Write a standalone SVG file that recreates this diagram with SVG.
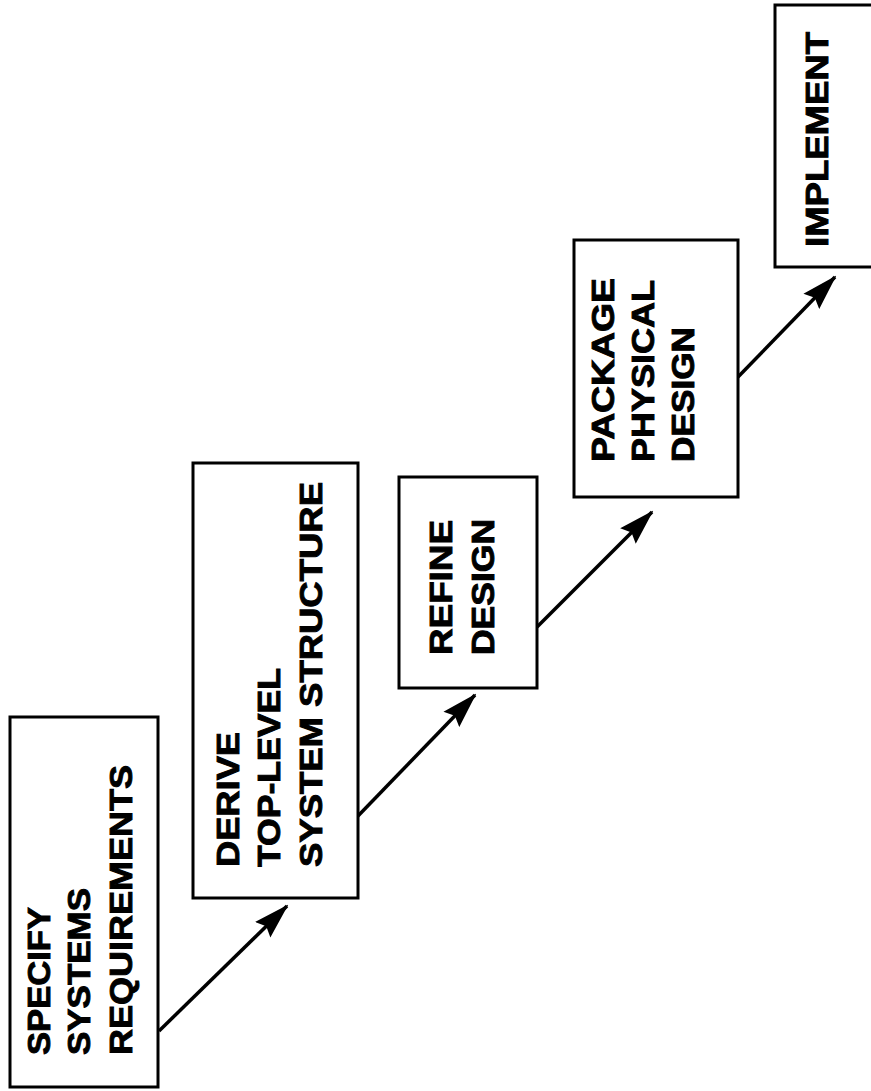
<svg xmlns="http://www.w3.org/2000/svg" width="871" height="1091" viewBox="0 0 871 1091">
<style>
.box{fill:#fff;stroke:#000;stroke-width:3}
.lbl{font-family:"Liberation Sans",Arial,sans-serif;font-weight:bold;font-size:31px;fill:#000;stroke:#000;stroke-width:0.9}
.conn{stroke:#000;stroke-width:3.5;fill:none;marker-end:url(#ah)}
</style>
<defs>
<marker id="ah" markerUnits="userSpaceOnUse" viewBox="0 0 36 24" refX="34" refY="12" markerWidth="36" markerHeight="24" orient="auto">
<path d="M0,1 L36,12 L0,23 L5,12 z" fill="#000"/>
</marker>
</defs>
<rect width="871" height="1091" fill="#fff"/>
<g id="connectors">
<line class="conn" x1="159" y1="1031" x2="287" y2="906"/>
<line class="conn" x1="357" y1="817" x2="475" y2="695"/>
<line class="conn" x1="537" y1="627" x2="652" y2="512"/>
<line class="conn" x1="738" y1="377" x2="835" y2="277"/>
</g>
<g id="n1">
<rect class="box" x="10" y="717" width="148" height="370"/>
<text class="lbl" transform="translate(50,1055) rotate(-90)" textLength="148" lengthAdjust="spacingAndGlyphs">SPECIFY</text>
<text class="lbl" transform="translate(90,1055) rotate(-90)" textLength="167" lengthAdjust="spacingAndGlyphs">SYSTEMS</text>
<text class="lbl" transform="translate(132,1055) rotate(-90)" textLength="290" lengthAdjust="spacingAndGlyphs">REQUIREMENTS</text>
</g>
<g id="n2">
<rect class="box" x="193" y="463" width="165" height="435"/>
<text class="lbl" transform="translate(239,867) rotate(-90)" textLength="135" lengthAdjust="spacingAndGlyphs">DERIVE</text>
<text class="lbl" transform="translate(280,867) rotate(-90)" textLength="199" lengthAdjust="spacingAndGlyphs">TOP-LEVEL</text>
<text class="lbl" transform="translate(322,867) rotate(-90)" textLength="385" lengthAdjust="spacingAndGlyphs">SYSTEM STRUCTURE</text>
</g>
<g id="n3">
<rect class="box" x="399" y="477" width="138" height="211"/>
<text class="lbl" transform="translate(452,655) rotate(-90)" textLength="135" lengthAdjust="spacingAndGlyphs">REFINE</text>
<text class="lbl" transform="translate(494,655) rotate(-90)" textLength="136" lengthAdjust="spacingAndGlyphs">DESIGN</text>
</g>
<g id="n4">
<rect class="box" x="574" y="240" width="164" height="257"/>
<text class="lbl" transform="translate(614,462) rotate(-90)" textLength="184" lengthAdjust="spacingAndGlyphs">PACKAGE</text>
<text class="lbl" transform="translate(654,462) rotate(-90)" textLength="182" lengthAdjust="spacingAndGlyphs">PHYSICAL</text>
<text class="lbl" transform="translate(694,462) rotate(-90)" textLength="135" lengthAdjust="spacingAndGlyphs">DESIGN</text>
</g>
<g id="n5">
<rect class="box" x="775" y="5" width="120" height="262"/>
<text class="lbl" transform="translate(828,247) rotate(-90)" textLength="215" lengthAdjust="spacingAndGlyphs">IMPLEMENT</text>
</g>
</svg>
